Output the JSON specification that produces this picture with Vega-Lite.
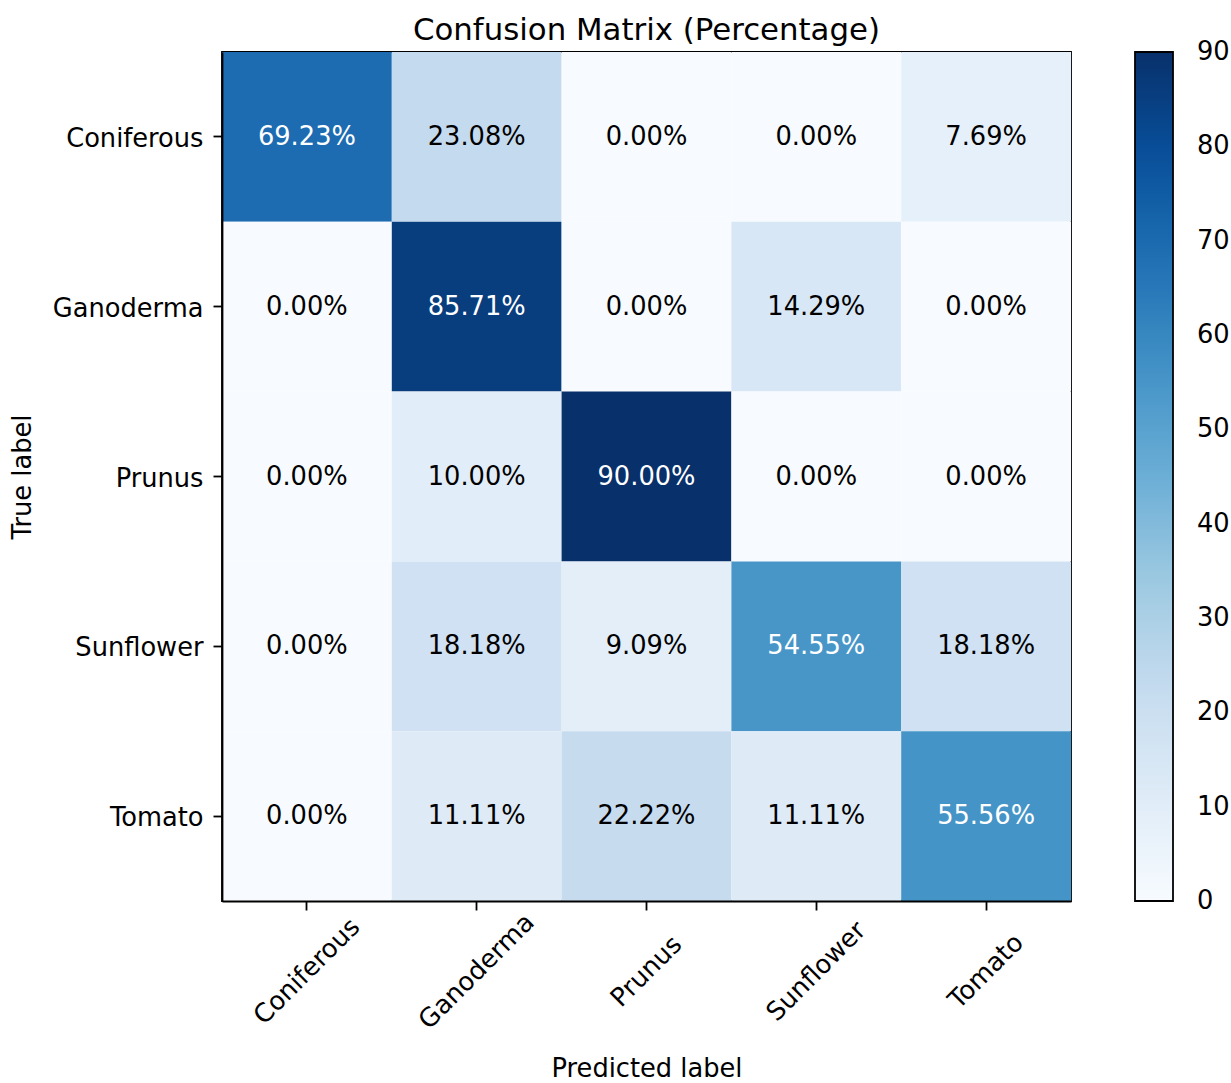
{
  "$schema": "https://vega.github.io/schema/vega-lite/v6.json",
  "autosize": {"type": "none"},
  "padding": {"left": 222, "top": 52, "right": 160, "bottom": 182},
  "width": 849,
  "height": 849,
  "background": "white",
  "config": {
    "font": "DejaVu Sans",
    "view": {"stroke": "black", "strokeWidth": 1.8}
  },
  "title": {
    "text": "Confusion Matrix (Percentage)",
    "fontSize": 30.8,
    "fontWeight": "normal",
    "font": "DejaVu Sans",
    "color": "black",
    "offset": 5,
    "anchor": "middle"
  },
  "data": {
    "values": [
      {"true": "Coniferous", "pred": "Coniferous", "value": 69.23, "label": "69.23%"},
      {"true": "Coniferous", "pred": "Ganoderma", "value": 23.08, "label": "23.08%"},
      {"true": "Coniferous", "pred": "Prunus", "value": 0, "label": "0.00%"},
      {"true": "Coniferous", "pred": "Sunflower", "value": 0, "label": "0.00%"},
      {"true": "Coniferous", "pred": "Tomato", "value": 7.69, "label": "7.69%"},
      {"true": "Ganoderma", "pred": "Coniferous", "value": 0, "label": "0.00%"},
      {"true": "Ganoderma", "pred": "Ganoderma", "value": 85.71, "label": "85.71%"},
      {"true": "Ganoderma", "pred": "Prunus", "value": 0, "label": "0.00%"},
      {"true": "Ganoderma", "pred": "Sunflower", "value": 14.29, "label": "14.29%"},
      {"true": "Ganoderma", "pred": "Tomato", "value": 0, "label": "0.00%"},
      {"true": "Prunus", "pred": "Coniferous", "value": 0, "label": "0.00%"},
      {"true": "Prunus", "pred": "Ganoderma", "value": 10.0, "label": "10.00%"},
      {"true": "Prunus", "pred": "Prunus", "value": 90.0, "label": "90.00%"},
      {"true": "Prunus", "pred": "Sunflower", "value": 0, "label": "0.00%"},
      {"true": "Prunus", "pred": "Tomato", "value": 0, "label": "0.00%"},
      {"true": "Sunflower", "pred": "Coniferous", "value": 0, "label": "0.00%"},
      {"true": "Sunflower", "pred": "Ganoderma", "value": 18.18, "label": "18.18%"},
      {"true": "Sunflower", "pred": "Prunus", "value": 9.09, "label": "9.09%"},
      {"true": "Sunflower", "pred": "Sunflower", "value": 54.55, "label": "54.55%"},
      {"true": "Sunflower", "pred": "Tomato", "value": 18.18, "label": "18.18%"},
      {"true": "Tomato", "pred": "Coniferous", "value": 0, "label": "0.00%"},
      {"true": "Tomato", "pred": "Ganoderma", "value": 11.11, "label": "11.11%"},
      {"true": "Tomato", "pred": "Prunus", "value": 22.22, "label": "22.22%"},
      {"true": "Tomato", "pred": "Sunflower", "value": 11.11, "label": "11.11%"},
      {"true": "Tomato", "pred": "Tomato", "value": 55.56, "label": "55.56%"}
    ]
  },
  "encoding": {
    "x": {
      "field": "pred",
      "type": "nominal",
      "sort": ["Coniferous", "Ganoderma", "Prunus", "Sunflower", "Tomato"],
      "scale": {"paddingInner": 0, "paddingOuter": 0},
      "axis": {
        "title": "Predicted label",
        "titleFontSize": 25.7,
        "titleFontWeight": "normal",
        "titleColor": "black",
        "titleY": 175,
        "titleBaseline": "alphabetic",
        "labelAngle": -45,
        "labelAlign": "center",
        "labelBaseline": "middle",
        "labelFontSize": 25.7,
        "labelColor": "black",
        "labelPadding": 61,
        "tickSize": 9,
        "tickColor": "black",
        "tickWidth": 1.8,
        "domainColor": "black",
        "domainWidth": 1.8,
        "grid": false
      }
    },
    "y": {
      "field": "true",
      "type": "nominal",
      "sort": ["Coniferous", "Ganoderma", "Prunus", "Sunflower", "Tomato"],
      "scale": {"paddingInner": 0, "paddingOuter": 0},
      "axis": {
        "title": "True label",
        "titleFontSize": 25.7,
        "titleFontWeight": "normal",
        "titleColor": "black",
        "titleX": -200,
        "titleBaseline": "middle",
        "labelFontSize": 25.7,
        "labelColor": "black",
        "labelPadding": 10,
        "labelOffset": 2,
        "tickSize": 9,
        "tickColor": "black",
        "tickWidth": 1.8,
        "domainColor": "black",
        "domainWidth": 1.8,
        "grid": false
      }
    }
  },
  "layer": [
    {
      "mark": {"type": "rect"},
      "encoding": {
        "color": {
          "field": "value",
          "type": "quantitative",
          "scale": {
            "domain": [0, 11.25, 22.5, 33.75, 45, 56.25, 67.5, 78.75, 90],
            "range": ["#f7fbff", "#deebf7", "#c6dbef", "#9ecae1", "#6baed6", "#4292c6", "#2171b5", "#08519c", "#08306b"],
            "interpolate": "rgb"
          },
          "legend": {
            "orient": "none",
            "legendX": 913,
            "legendY": 0,
            "direction": "vertical",
            "title": null,
            "gradientLength": 849,
            "gradientThickness": 38,
            "gradientStrokeColor": "black",
            "gradientStrokeWidth": 1.8,
            "values": [0, 10, 20, 30, 40, 50, 60, 70, 80, 90],
            "labelFontSize": 25.7,
            "labelColor": "black",
            "labelOffset": 24,
            "labelOverlap": false,
            "encode": {
              "labels": {
                "update": {
                  "baseline": {"value": "middle"}
                }
              }
            }
          }
        }
      }
    },
    {
      "mark": {"type": "text", "fontSize": 25.7, "baseline": "middle", "align": "center"},
      "encoding": {
        "text": {"field": "label"},
        "color": {
          "condition": {"test": "datum.value > 45", "value": "white"},
          "value": "black"
        }
      }
    }
  ]
}
